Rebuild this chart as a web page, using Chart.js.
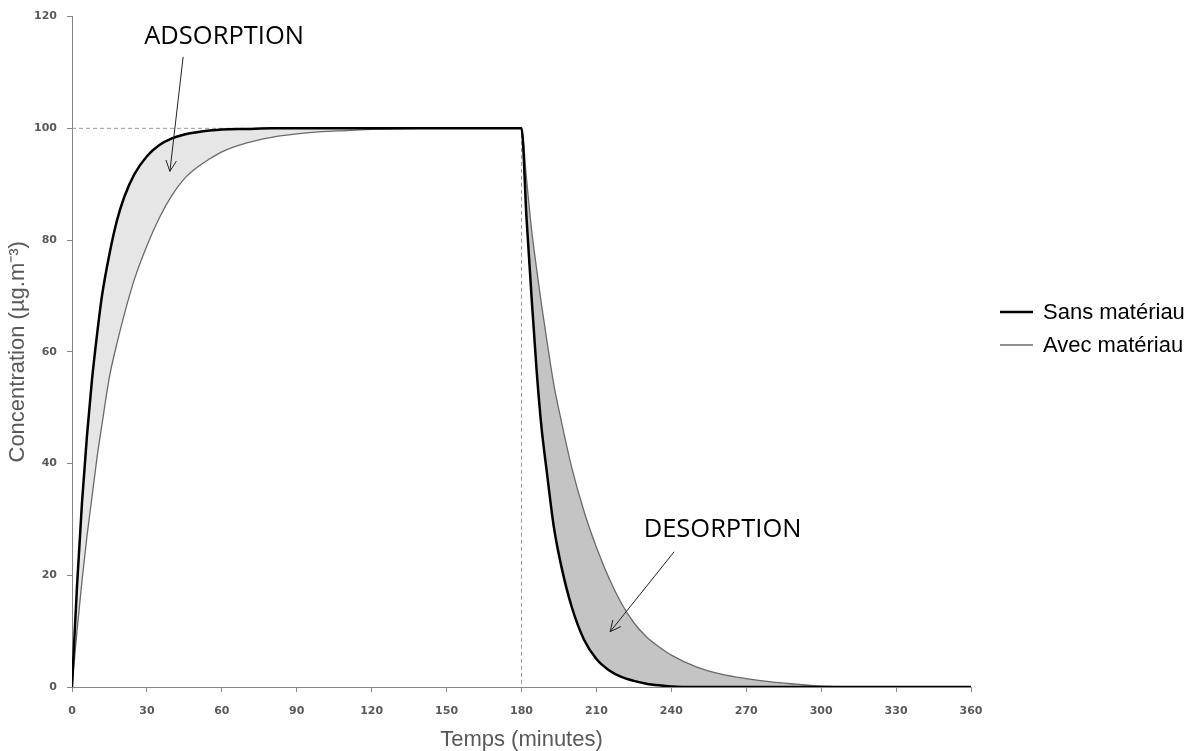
<!DOCTYPE html>
<html>
<head>
<meta charset="utf-8">
<script src="https://cdn.jsdelivr.net/npm/chart.js@4.4.1/dist/chart.umd.min.js"></script>
<style>
  html, body { margin: 0; padding: 0; background: #fff; }
  #wrap { width: 1192px; height: 751px; }
</style>
</head>
<body>
<div id="wrap"><canvas id="myChart" width="1192" height="751"></canvas></div>
<script>
// time (minutes) shared by both curves
var times = [0, 2, 4, 6, 8, 10, 12, 15, 18, 21, 25, 30, 35, 40, 45, 50, 55, 60, 70, 80, 90, 100, 110, 120, 130, 140, 150, 160, 170,
  180, 182, 184, 186, 188, 190, 193, 196, 200, 205, 210, 215, 220, 225, 230, 235, 240, 250, 260, 270, 280, 290, 300, 315, 330, 345, 360];

// concentration without material (black)
var sansMateriau = [0, 18, 33, 45, 55, 63, 70, 77.5, 83.5, 87.8, 91.8, 95, 97, 98.2, 98.9, 99.3, 99.6, 99.8, 99.9, 100, 100, 100, 100, 100, 100, 100, 100, 100, 100,
  100, 84, 70, 57, 46.5, 39, 28.5, 21.5, 14.5, 8.5, 5, 3, 1.8, 1.1, 0.6, 0.3, 0.1, 0, 0, 0, 0, 0, 0, 0, 0, 0, 0];

// concentration with material (grey)
var avecMateriau = [0, 10, 19, 27, 34, 41, 47, 55.5, 61.5, 66.8, 73, 79, 84, 88, 91, 93, 94.5, 95.8, 97.4, 98.4, 99, 99.4, 99.6, 99.8, 99.9, 100, 100, 100, 100,
  100, 91, 82, 75, 68.5, 62.5, 54, 47.5, 39.5, 31.5, 25, 19.5, 15, 11.5, 9, 7.2, 5.7, 3.6, 2.3, 1.5, 0.9, 0.5, 0.15, 0, 0, 0, 0];

// dashed guide : 100 plateau and end of injection
var guideTimes = [0, 180, 180];
var guideValues = [100, 100, 0];

var xTickValues = [0, 30, 60, 90, 120, 150, 180, 210, 240, 270, 300, 330, 360];
var yTickValues = [0, 20, 40, 60, 80, 100, 120];

function toPoints(xs, ys) {
  return xs.map(function(x, i) { return { x: x, y: ys[i] }; });
}

var tickFont = { family: "DejaVu Sans", size: 11, weight: "bold" };
var titleFont = { family: "Liberation Sans", size: 22, lineHeight: 1 };

// arrows + ADSORPTION / DESORPTION labels, in data units
var notes = [
  { text: "ADSORPTION", tx: 60.9, ty: 116.4, x1: 44.5, y1: 112.8, x2: 39.2, y2: 92.3 },
  { text: "DESORPTION", tx: 260.5, ty: 28.1, x1: 241.1, y1: 24.2, x2: 215.5, y2: 9.9 }
];

var notesPlugin = {
  id: "notes",
  afterDatasetsDraw: function(chart) {
    var ctx = chart.ctx, xs = chart.scales.x, ys = chart.scales.y;
    ctx.save();
    notes.forEach(function(n) {
      ctx.font = "25.5px 'Open Sans'";
      ctx.fillStyle = "#000";
      ctx.textAlign = "center";
      ctx.textBaseline = "middle";
      ctx.fillText(n.text, xs.getPixelForValue(n.tx), ys.getPixelForValue(n.ty));

      var ax = xs.getPixelForValue(n.x1), ay = ys.getPixelForValue(n.y1);
      var bx = xs.getPixelForValue(n.x2), by = ys.getPixelForValue(n.y2);
      ctx.strokeStyle = "#222";
      ctx.lineWidth = 1;
      ctx.beginPath();
      ctx.moveTo(ax, ay);
      ctx.lineTo(bx, by);
      var ang = Math.atan2(by - ay, bx - ax);
      var len = 12, spread = 0.45;
      ctx.moveTo(bx - len * Math.cos(ang - spread), by - len * Math.sin(ang - spread));
      ctx.lineTo(bx, by);
      ctx.lineTo(bx - len * Math.cos(ang + spread), by - len * Math.sin(ang + spread));
      ctx.stroke();
    });
    ctx.restore();
  }
};

// legend on the right, drawn from the dataset labels
var legendPlugin = {
  id: "sideLegend",
  afterDraw: function(chart) {
    var ctx = chart.ctx;
    var x0 = chart.chartArea.right + 29, y0 = 312, step = 33;
    ctx.save();
    ctx.font = "22px 'Liberation Sans'";
    ctx.textAlign = "left";
    ctx.textBaseline = "middle";
    chart.data.datasets.filter(function(d) { return d.label !== "guide"; }).forEach(function(d, i) {
      var y = y0 + i * step;
      ctx.strokeStyle = d.borderColor;
      ctx.lineWidth = d.borderWidth;
      ctx.beginPath();
      ctx.moveTo(x0, y);
      ctx.lineTo(x0 + 33, y);
      ctx.stroke();
      ctx.fillStyle = "#000";
      ctx.fillText(d.label, x0 + 43, y + 1);
    });
    ctx.restore();
  }
};

var ctx = document.getElementById("myChart");

var chart = new Chart(ctx, {
  type: "line",
  data: {
    datasets: [
      {
        label: "Sans matériau",
        data: toPoints(times, sansMateriau),
        borderColor: "#000000",
        backgroundColor: "#000000",
        borderWidth: 2.5,
        pointRadius: 0,
        fill: false,
        cubicInterpolationMode: "monotone",
        order: 0
      },
      {
        label: "Avec matériau",
        data: toPoints(times, avecMateriau),
        borderColor: "#6a6a6a",
        backgroundColor: "#6a6a6a",
        borderWidth: 1.3,
        pointRadius: 0,
        fill: { target: 0, above: "#c4c4c4", below: "#e6e6e6" },
        cubicInterpolationMode: "monotone",
        order: 1
      },
      {
        label: "guide",
        data: toPoints(guideTimes, guideValues),
        borderColor: "#9a9a9a",
        borderWidth: 1,
        borderDash: [4, 3],
        pointRadius: 0,
        fill: false,
        tension: 0,
        order: 2
      }
    ]
  },
  options: {
    responsive: false,
    animation: false,
    layout: { padding: { top: 9, right: 221, bottom: 0, left: 0 } },
    plugins: {
      tooltip: { enabled: false },
      legend: { display: false }
    },
    scales: {
      x: {
        type: "linear",
        min: 0,
        max: 360,
        border: { color: "#868686", width: 1 },
        grid: { drawOnChartArea: false, drawTicks: true, tickLength: 5, color: "#868686" },
        ticks: { font: tickFont, color: "#595959", padding: 13, maxRotation: 0 },
        afterBuildTicks: function(s) { s.ticks = xTickValues.map(function(v) { return { value: v }; }); },
        afterFit: function(s) { s.height = 64; },
        title: { display: true, text: "Temps (minutes)", font: titleFont, color: "#595959", padding: { top: 0, bottom: 0 } }
      },
      y: {
        type: "linear",
        min: 0,
        max: 120,
        border: { color: "#868686", width: 1 },
        grid: { drawOnChartArea: false, drawTicks: true, tickLength: 5, color: "#868686" },
        ticks: { font: tickFont, color: "#595959", padding: 10 },
        afterBuildTicks: function(s) { s.ticks = yTickValues.map(function(v) { return { value: v }; }); },
        afterFit: function(s) { s.width = 72; },
        title: { display: true, text: "Concentration (µg.m⁻³)", font: titleFont, color: "#595959", padding: { top: 7, bottom: 0 } }
      }
    }
  },
  plugins: [notesPlugin, legendPlugin]
});
</script>
</body>
</html>
